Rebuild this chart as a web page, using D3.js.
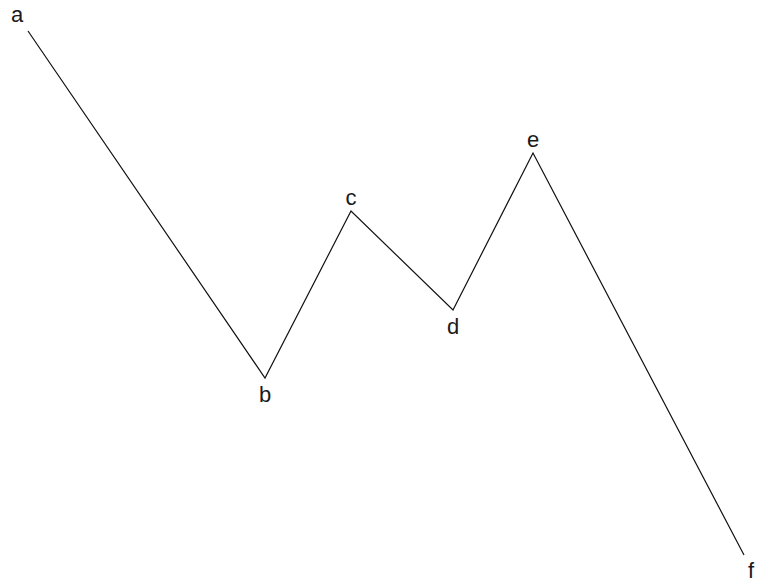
<!DOCTYPE html>
<html>
<head>
<meta charset="utf-8">
<script src="https://cdnjs.cloudflare.com/ajax/libs/d3/7.8.5/d3.min.js"></script>
<style>
  body { margin: 0; background: #fff; }
  svg text { font-family: "Liberation Sans", Arial, sans-serif; font-size: 22px; fill: #1a1a1a; }
</style>
</head>
<body>
<div id="chart"></div>
<script>
// wave points (x = bar position, y = price level, screen units)
var labels = ['a', 'b', 'c', 'd', 'e', 'f'];
var xValues = [28, 265, 351, 453, 533, 744];
var yValues = [31, 378, 211, 310, 153, 555];
var isPeak  = [true, false, true, false, true, false];

var width = 759,
    height = 582;

var x = d3.scaleLinear().domain([0, 759]).range([0, width]);
var y = d3.scaleLinear().domain([0, 582]).range([0, height]);

var data = labels.map(function(d, i) {
  return { label: d, x: xValues[i], y: yValues[i], peak: isPeak[i] };
});

var svg = d3.select('#chart').append('svg')
    .attr('width', width)
    .attr('height', height);

var line = d3.line()
    .x(function(d) { return x(d.x); })
    .y(function(d) { return y(d.y); });

svg.append('path')
    .datum(data)
    .attr('d', line)
    .attr('fill', 'none')
    .attr('stroke', '#111')
    .attr('stroke-width', 1.2);

// labels sit above peaks, below troughs
svg.selectAll('text.lbl')
    .data(data)
  .enter().append('text')
    .attr('class', 'lbl')
    .attr('text-anchor', 'middle')
    .attr('x', function(d, i) {
      if (i == 0) return x(d.x) - 11;
      if (i == data.length - 1) return x(d.x) + 7;
      return x(d.x);
    })
    .attr('y', function(d, i) {
      if (i == 0) return y(d.y) - 9;
      if (i == data.length - 1) return y(d.y) + 23;
      return d.peak ? y(d.y) - 6 : y(d.y) + 24;
    })
    .text(function(d) { return d.label; });
</script>
</body>
</html>
